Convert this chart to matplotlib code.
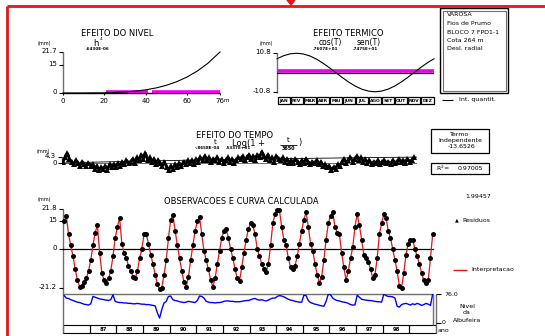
import numpy as np
import matplotlib
matplotlib.use("Agg")
import matplotlib.pyplot as plt
from matplotlib.patches import Rectangle

W, H = 545, 336
RED, MAG, BLUE, GREY = "#e01818", "#ee00ee", "#0000ff", "#707070"

# efeito do nivel  (h in m, efeito in mm)
nivel_h = [0, 10, 20, 30, 35, 40, 45, 50, 55, 60, 65, 70, 76]
nivel_v = [0, 0.01, 0.10, 0.53, 0.98, 1.67, 2.67, 4.07, 5.95, 8.43, 11.61, 15.62, 21.7]
nivel_obs_ini = [21, 43]
nivel_obs_fim = [41, 76]

# efeito termico over one year (half-month steps)
termico_t = [k / 24 for k in range(25)]
termico_v = [7.61, 9.28, 10.33, 10.67, 10.28, 9.19, 7.48, 5.25, 2.67, -0.09, -2.85, -5.41,
             -7.61, -9.28, -10.33, -10.67, -10.28, -9.19, -7.48, -5.25, -2.67, 0.09, 2.85, 5.41, 7.61]
meses = ["JAN", "FEV", "MAR", "ABR", "MAI", "JUN", "JUL", "AGO", "SET", "OUT", "NOV", "DEZ"]

# efeito do tempo
tempo_ano = list(range(1986, 2001))
tempo_v = [0, 0.48, 0.91, 1.31, 1.67, 2.01, 2.32, 2.61, 2.88, 3.14, 3.38, 3.61, 3.83, 4.03, 4.23]

# monthly observations 1986-01 .. 1999-11 (mm)
obs = [15, 18, 8, 2, -4, -11, -17, -20.5, -20, -18, -16, -12,
       -6, 2, 9, 13, -2, -13, -17, -18.5, -16, -12, -4, 6,
       12, 17, 3, -2, -5, -9, -12, -15, -16, -12, -5, 0,
       8, 8, 3, -3, -8, -14, -19, -22, -21, -14, -6, 6,
       16, 18.5, 10, 2, -5, -12, -18, -20.5, -15, -6, 2, 10,
       15, 17.5, 8, -1, -6, -11, -17, -20.5, -16, -8, -1, 6,
       10, 11, 6, 0, -5, -11, -16, -17.5, -10, -2, 5, 11,
       14, 13, 8, 0, -4, -8, -11, -12.5, -8, 2, 14, 19,
       21, 21, 12, 5, 2, -5, -10, -11, -9, -4, 3, 10,
       16, 20, 12, 3, -1, -8, -14, -18.5, -15, -6, 5, 14,
       18, 20, 12, 9, 8, -2, -10, -17, -12, -5, 1, 12,
       19, 13, 5, -3, -5, -7, -11, -15.5, -14, -5, 8, 14,
       19, 17, 10, 6, 0, -6, -12, -20, -21, -13, -3, 3,
       5, 5, 0, -4, -8, -13, -17, -18.5, -17, -5, 8]

# residuos (mm)
resid = [1, 4, 7, 3, 1, -1, 2, 0, -2, 1, -1, -2,
         0, -2, -1, -4, -2, -5, -3, -4, -2, -5, -1, -3,
         -1, -3, 0, -2, 1, -1, 2, 0, 1, 3, 0, 4,
         2, 6, 3, 7, 2, 4, 1, 3, -1, 2, 0, -2,
         1, -3, -5, -2, -4, -1, -3, 0, -2, 1, -1, 2,
         0, 2, -1, 3, 1, 4, 2, 5, 2, 4, 1, 3,
         2, 4, 1, 3, 0, 2, 4, 1, 3, 0, 2, 4,
         3, 5, 2, 4, 6, 3, 5, 2, 6, 4, 8, 5,
         3, 6, 2, 4, 1, 5, 3, 2, 4, 1, 3, 0,
         2, 0, 3, 1, -1, 2, 0, 3, 1, -1, 1, 0,
         2, -1, 1, -2, -1, -3, -2, -5, -3, -4, -1, -2,
         1, 3, 0, 2, 4, 1, 3, 5, 2, 4, 1, 3,
         0, 2, -1, 1, 0, 2, -1, 1, 2, 0, 1, -1,
         2, 0, 1, 3, 1, 2, 0, 3, 1, 2, 4]

# nivel da albufeira (m)
nivel = [72, 66, 65, 62, 60, 58, 56, 55, 53, 51, 50, 49,
         52, 70, 68, 66, 64, 63, 62, 61, 60, 62, 74, 58,
         56, 55, 55, 54, 54, 53, 53, 52, 52, 53, 52, 51,
         51, 50, 50, 49, 48, 47, 30, 17, 38, 54, 58, 70,
         71, 62, 60, 59, 57, 56, 55, 56, 58, 57, 56, 55,
         60, 71, 70, 66, 58, 56, 55, 55, 54, 55, 55, 56,
         58, 59, 59, 58, 58, 57, 57, 57, 58, 59, 60, 60,
         62, 64, 65, 62, 61, 62, 60, 59, 61, 64, 66, 66,
         70, 72, 71, 69, 66, 63, 61, 60, 58, 57, 56, 56,
         73, 72, 60, 55, 53, 51, 50, 48, 47, 46, 58, 76,
         74, 66, 62, 60, 59, 57, 56, 55, 53, 50, 49, 49,
         73, 68, 63, 62, 61, 60, 60, 59, 58, 57, 57, 56,
         76, 72, 70, 70, 69, 66, 46, 44, 50, 52, 53, 51,
         49, 52, 50, 53, 51, 48, 50, 53, 51, 48, 76]

anos = list(range(1986, 2000))
info = ["VAROSA", "Fios de Prumo", "BLOCO 7 FPD1-1", "Cota 264 m", "Desl. radial"]

t = 1986 + (np.arange(len(obs)) + 0.5) / 12


def box(x0, y0, x1, y1):
    return [x0 / W, 1 - y1 / H, (x1 - x0) / W, (y1 - y0) / H]


def bare(ax):
    for s in ax.spines.values():
        s.set_visible(False)
    ax.set_xticks([]); ax.set_yticks([])
    ax.patch.set_alpha(0)


plt.rcParams["font.family"] = "DejaVu Sans"
fig = plt.figure(figsize=(W / 100, H / 100), dpi=100)

ov = fig.add_axes([0, 0, 1, 1])
ov.set_xlim(0, W); ov.set_ylim(H, 0); ov.axis("off")


def txt(x, y, s, size=5, ha="center", **kw):
    ov.text(x, y, s, fontsize=size, ha=ha, va="center", **kw)


def seg(x0, y0, x1, y1, c="k", lw=0.8):
    ov.plot([x0, x1], [y0, y1], color=c, lw=lw, solid_capstyle="butt")


# red frame
seg(7, 6, 7, H, RED, 2); seg(7, 6, W, 6, RED, 2)
ov.fill([287, 295, 291], [0, 0, 5], color=RED)

# ---- efeito do nivel
a1 = fig.add_axes(box(63, 52, 220, 93)); bare(a1)
a1.set_xlim(0, 76); a1.set_ylim(0, 21.7)
for i0, i1 in zip(nivel_obs_ini, nivel_obs_fim):
    a1.plot([i0, i1], [0.7, 0.7], color=MAG, lw=2.6, solid_capstyle="butt")
a1.plot(nivel_h, nivel_v, color="k", lw=0.8, clip_on=False)
seg(63, 52, 63, 93, GREY, 1); seg(63, 93, 220, 93, "k", 1)
for v, lab in [(21.7, "21.7"), (15, "15"), (0, "0")]:
    y = 93 - v / 21.7 * 41
    seg(59, y, 63, y); txt(57, y - 1, lab, ha="right")
for h, lab in [(0, "0"), (20, "20"), (40, "40"), (60, "60"), (76, "76")]:
    x = 63 + h / 76 * 157
    seg(x, 93, x, 95); txt(x, 101, lab)
txt(226, 101, "m", size=4)
txt(117, 33, "EFEITO DO NIVEL", size=6)
txt(95.5, 43.5, "h", size=6); txt(99.5, 39.5, "4", size=3.2, ha="left")
txt(97, 48.5, ".6430E-06", size=3, weight="bold")
txt(44, 43, "(mm)", size=3.5)

# ---- efeito termico
a2 = fig.add_axes(box(277, 53, 434, 92)); bare(a2)
a2.set_xlim(0, 1); a2.set_ylim(-10.8, 10.8)
a2.axhline(0.8, color=MAG, lw=2.6)
a2.axhline(0, color="k", lw=0.9)
a2.plot(termico_t, termico_v, color="k", lw=0.8, clip_on=False)
seg(277, 53, 277, 93, GREY, 1)
for y, lab in [(53, "10.8"), (92, "-10.8")]:
    seg(273, y, 277, y); txt(271, y - 1, lab, ha="right")
txt(266, 43, "(mm)", size=3.5)
txt(348, 34, "EFEITO TERMICO", size=6)
txt(330, 42, "cos(T)", size=5.5); txt(369, 42, "sen(T)", size=5.5)
txt(325, 48.5, ".7607E+01", size=3, weight="bold"); txt(365, 48.5, ".7475E+01", size=3, weight="bold")
cw = (434 - 277) / 12
for i, m in enumerate(meses):
    x0 = 277 + i * cw
    ov.add_patch(Rectangle((x0 + 0.5, 97), cw - 1, 7, fill=False, ec="k", lw=0.9))
    txt(x0 + cw / 2, 100.7, m, size=3.2, weight="bold")
seg(442, 100, 453, 100, "k", 0.8); txt(459, 100, "Int. quantit.", size=4.5, ha="left")

# info box
ov.add_patch(Rectangle((440, 8), 68, 85, fill=False, ec="k", lw=1))
ov.add_patch(Rectangle((442.5, 10.5), 63, 80, fill=False, ec=GREY, lw=0.8))
for i, s in enumerate(info):
    txt(447, 15 + i * 8.5, s, size=4.5, ha="left")

# ---- efeito do tempo
a3 = fig.add_axes(box(62, 145, 417, 175)); bare(a3)
a3.set_xlim(1986, 2000); a3.set_ylim(-8.57, 12.86)
a3.plot([1986, 2000], [0, 0], color=GREY, lw=0.7)
a3.plot(tempo_ano, tempo_v, color="k", lw=0.6)
a3.plot(t, resid, color="k", lw=2, marker="^", ms=3.8, mew=0)
seg(62, 157, 62, 163, GREY, 1)
seg(58, 157, 62, 157); seg(58, 163, 62, 163)
txt(56, 156, "4.3", ha="right"); txt(57, 163, "0", ha="right")
txt(43, 152, "(mm)", size=3.5)
txt(235, 135, "EFEITO DO TEMPO", size=6)
txt(215, 141.5, "t", size=5); txt(248, 143, "Log(1 +", size=6)
txt(288, 140.5, "t", size=5); seg(280, 145, 297, 145, "k", 0.6); txt(288, 148, "3650", size=3.5, weight="bold")
txt(300, 142.5, ")", size=6)
txt(207, 148, "-.8658E-04", size=3, weight="bold"); txt(238, 148, ".5337E+01", size=3, weight="bold")

ov.add_patch(Rectangle((431, 129), 58, 24, fill=False, ec="k", lw=0.9))
txt(460, 134, "Termo", size=4.5); txt(460, 140.5, "Independente", size=4.5); txt(462, 147, "-13.6526", size=4.5)
ov.add_patch(Rectangle((431, 163), 58, 11, fill=False, ec="k", lw=0.9))
txt(436, 168.5, "R$^2$=", size=4.5, ha="left"); txt(470, 168.5, "0.97005", size=4.5)
txt(478, 196, "1.99457", size=4.5)

# ---- observacoes e curva calculada
a4 = fig.add_axes(box(63, 209, 436, 288)); bare(a4)
a4.set_xlim(1986, 2000); a4.set_ylim(-21.2, 21.8)
a4.plot([1986, t[-1]], [0, 0], color="k", lw=0.9)
a4.plot(t, obs, color=RED, lw=0.9, clip_on=False)
a4.plot(t, obs, ls="none", marker="o", ms=3.6, mfc="k", mec="k", mew=0, clip_on=False)
seg(63, 209, 63, 333, GREY, 1)
for v, lab in [(21.8, "21.8"), (15, "15"), (0, "0"), (-21.2, "-21.2")]:
    y = 288 - (v + 21.2) / 43 * 79
    seg(59, y, 63, y); txt(57, y - 1, lab, ha="right")
txt(44, 200, "(mm)", size=3.5)
txt(241, 201, "OBSERVACOES E CURVA CALCULADA", size=6)
txt(457, 220, "\u25b2", size=3.5); txt(462, 220, "Residuos", size=4.5, ha="left")
seg(453, 270, 467, 270, RED, 1); txt(471, 270, "Interpretacao", size=4.5, ha="left")

# nivel da albufeira
a5 = fig.add_axes(box(63, 294, 436, 325)); bare(a5)
a5.set_xlim(1986, 2000); a5.set_ylim(0, 76)
a5.plot(t, nivel, color=BLUE, lw=1)
seg(63, 294, 433, 294, GREY, 1)
seg(433, 294, 433, 325, GREY, 1); seg(436, 294, 436, 333, GREY, 1)
seg(436, 294, 441, 294); seg(436, 323, 441, 323)
txt(444, 295, "76.0", size=4.5, ha="left"); txt(442, 322, "0", size=4.5, ha="left")
txt(467, 306, "Nivel", size=4.5); txt(467, 313, "da", size=4.5); txt(467, 320, "Albufeira", size=4.5)
txt(438, 331, "ano", size=4.5, ha="left")

yw = (436 - 63) / 14
for i, a in enumerate(anos):
    x0 = 63 + i * yw
    ov.add_patch(Rectangle((x0, 325), yw, 8, fill=False, ec="k", lw=0.8))
    if 1987 <= a <= 1998:
        txt(x0 + yw / 2, 329.2, str(a)[2:], size=3.8, weight="bold")

fig.savefig("out.png", dpi=100)
